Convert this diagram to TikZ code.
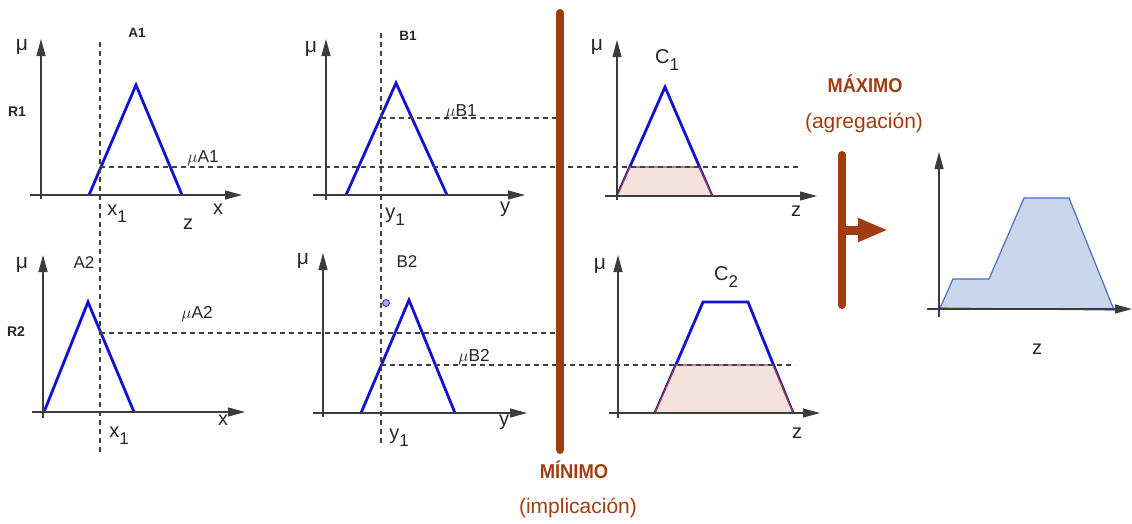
\documentclass[tikz,border=0pt]{standalone}
\usepackage{fontspec}
\setmainfont{Liberation Sans}
\usepackage{graphicx}
\usetikzlibrary{arrows.meta}
\definecolor{brownbar}{RGB}{160,60,15}
\definecolor{mfblue}{RGB}{18,18,208}
\definecolor{clipfill}{RGB}{245,226,220}
\definecolor{clipedge}{RGB}{150,60,70}
\definecolor{aggfill}{RGB}{202,214,235}
\definecolor{aggedge}{RGB}{70,112,196}
\definecolor{axisgray}{RGB}{60,60,60}
\newcommand\myfs[1]{\fontsize{#1}{#1}\selectfont}
\tikzset{
  axisline/.style={draw=axisgray, line width=1.2pt, -{Triangle[length=17pt,width=9pt]}},
  mfline/.style={draw=mfblue, line width=2.8pt, line join=miter},
  guide/.style={draw=black!75, line width=1.1pt, dash pattern=on 5pt off 4pt},
  cutfill/.style={fill=clipfill, draw=clipedge, line width=1.4pt},
  barline/.style={draw=brownbar, line width=8pt, line cap=round},
  mulbl/.style={inner sep=0pt, text=black!85, font=\myfs{21}},
  setlbl/.style={inner sep=0pt, text=black!85, font=\myfs{13.5}\bfseries},
  biglbl/.style={inner sep=0pt, text=black!85, font=\myfs{17}},
  rulelbl/.style={inner sep=0pt, text=black!85, font=\myfs{14}\bfseries},
  vallbl/.style={inner sep=0pt, text=black!85, font=\myfs{17.28}},
  varlbl/.style={inner sep=0pt, text=black!85, font=\myfs{20}},
  oplbl/.style={inner sep=0pt, text=brownbar, font=\myfs{20}\bfseries},
  opsub/.style={inner sep=0pt, text=brownbar, font=\myfs{21}},
}
\newcommand\subn[2]{#1\raisebox{-7pt}{\myfs{17}#2}}
\begin{document}
\begin{tikzpicture}[x=1pt,y=-1pt]
\useasboundingbox (0,0) rectangle (1132,523);

% ---- clipped areas (implication) and aggregate ----
\draw[mfline] (617,196) -- (665,87) -- (712,196);
\draw[cutfill] (617,196) -- (630,167) -- (699,167) -- (712,196) -- cycle;
\draw[mfline] (655,413) -- (703,302) -- (748,302) -- (793,413);
\draw[cutfill] (655,413) -- (676,365) -- (773,365) -- (793,413) -- cycle;
\draw[fill=aggfill, draw=aggedge, line width=1.2pt]
  (940,308) -- (953,279) -- (989,279) -- (1024,198) -- (1069,198) -- (1114,310) -- cycle;

% ---- antecedent membership functions ----
\draw[mfline] (89,195) -- (136,85) -- (182,195);
\draw[mfline] (346,195) -- (396,83) -- (447,195);
\draw[mfline] (44,412) -- (88,302) -- (134,412);
\draw[mfline] (361,413) -- (409,300) -- (455,413);

% ---- guides ----
\coordinate (gx1t) at (100,42);  \coordinate (gx1b) at (100,455);
\coordinate (gy1t) at (381,33);  \coordinate (gy1b) at (381,447);
\coordinate (gA1s) at (100,167); \coordinate (gA1e) at (798,167);
\coordinate (gB1s) at (381,118); \coordinate (gB1e) at (556,118);
\coordinate (gA2s) at (100,333); \coordinate (gA2e) at (556,333);
\coordinate (gB2s) at (381,365); \coordinate (gB2e) at (795,365);
\draw[guide] (gx1t) -- (gx1b);
\draw[guide] (gy1t) -- (gy1b);
\draw[guide] (gA1s) -- (gA1e);
\draw[guide] (gB1s) -- (gB1e);
\draw[guide] (gA2s) -- (gA2e);
\draw[guide] (gB2s) -- (gB2e);

% ---- axes ----
\draw[axisline] (41,199) -- (41,39);   \draw[axisline] (30,195) -- (242,195);
\draw[axisline] (326,200) -- (326,39); \draw[axisline] (313,195) -- (525,195);
\draw[axisline] (43,418) -- (43,255);  \draw[axisline] (32,412) -- (245,412);
\draw[axisline] (323,417) -- (323,253);\draw[axisline] (313,413) -- (527,413);
\draw[axisline] (617,200) -- (617,40); \draw[axisline] (605,196) -- (817,196);
\draw[axisline] (618,418) -- (618,255);\draw[axisline] (609,413) -- (820,413);
\draw[axisline] (939,317) -- (939,152);\draw[axisline] (927,309) -- (1132,309);

% ---- small dot ----
\node[circle, inner sep=0pt, minimum size=7pt, fill=blue!35, draw=blue!60!black, line width=0.6pt] (dot) at (386,303) {};

% ---- operator bars ----
\coordinate (mint) at (560,13); \coordinate (minb) at (560,450);
\draw[barline] (mint) -- (minb);
\coordinate (maxt) at (842,155); \coordinate (maxb) at (842,305);
\draw[barline] (maxt) -- (maxb);
\coordinate (arrs) at (842,230); \coordinate (arre) at (888,230);
\draw[draw=brownbar, line width=9pt, -{Triangle[length=30pt,width=22pt]}] (arrs) -- (arre);

% ---- labels ----
\node[mulbl] (muA1) at (22,47) {μ};
\node[setlbl] (lA1) at (137,33) {A1};
\node[rulelbl] (lR1) at (17,112) {R1};
\node[vallbl] (vA1) at (203,158) {$\mu$A1};
\node[varlbl] (x1a) at (117,214) {\subn{x}{1}};
\node[varlbl] (xa) at (218,209) {x};
\node[varlbl] (za) at (188,224) {z};

\node[mulbl] (muB1) at (311,49) {μ};
\node[setlbl] (lB1) at (408,36) {B1};
\node[vallbl] (vB1) at (461,112) {$\mu$B1};
\node[varlbl] (y1a) at (395,217) {\subn{y}{1}};
\node[varlbl] (ya) at (505,209) {y};

\node[mulbl] (muA2) at (22,265) {μ};
\node[biglbl] (lA2) at (84,263) {A2};
\node[rulelbl] (lR2) at (16,332) {R2};
\node[vallbl] (vA2) at (197,314) {$\mu$A2};
\node[varlbl] (x1b) at (119,436) {\subn{x}{1}};
\node[varlbl] (xb) at (223,420) {x};

\node[mulbl] (muB2) at (303,261) {μ};
\node[biglbl] (lB2) at (407,262) {B2};
\node[vallbl] (vB2) at (474,357) {$\mu$B2};
\node[varlbl] (y1b) at (399,438) {\subn{y}{1}};
\node[varlbl] (yb) at (504,422) {y};

\node[mulbl] (muC1) at (597,47) {μ};
\node[varlbl] (lC1) at (667,60) {\subn{C}{1}};
\node[varlbl] (zc1) at (796,211) {z};

\node[mulbl] (muC2) at (600,266) {μ};
\node[varlbl] (lC2) at (726,277) {\subn{C}{2}};
\node[varlbl] (zc2) at (797,433) {z};

\node[varlbl] (zagg) at (1037,349) {z};

\node[oplbl] (lmin) at (574,470) {\scalebox{0.92}[1]{MÍNIMO}};
\node[opsub] (lmins) at (578,508) {(implicación)};
\node[oplbl] (lmax) at (865,84) {\scalebox{0.91}[1]{MÁXIMO}};
\node[opsub] (lmaxs) at (864,123) {(agregación)};
\end{tikzpicture}
\end{document}
